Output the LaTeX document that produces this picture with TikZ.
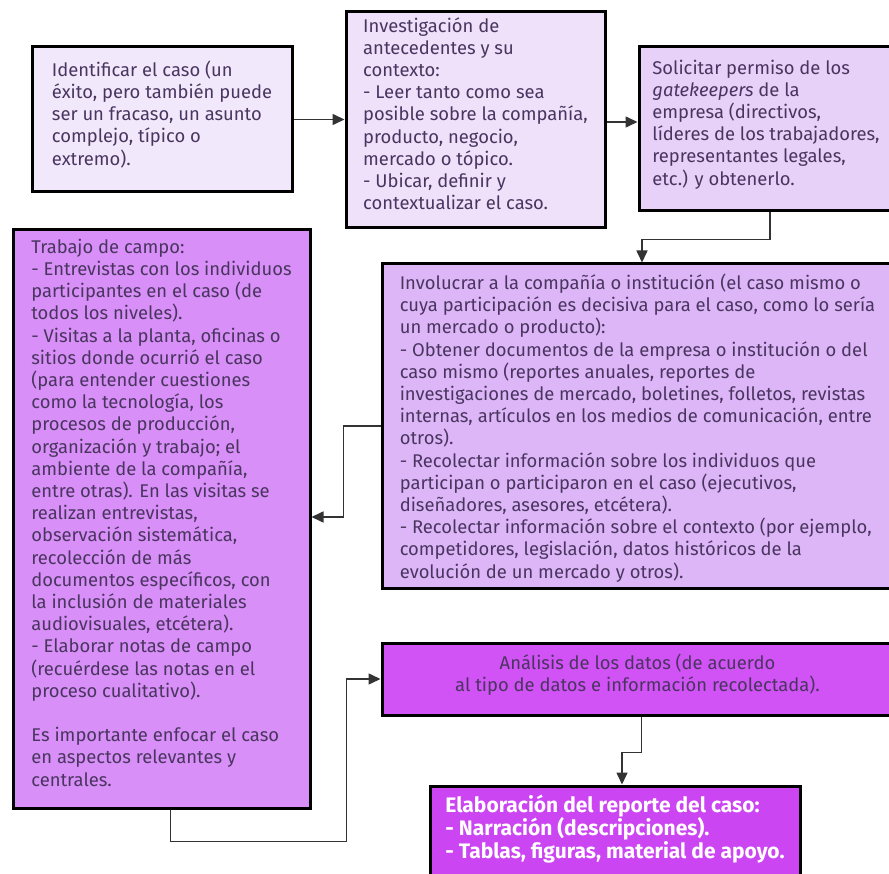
\documentclass[tikz,border=0pt]{standalone}
\usepackage{fontspec}
\setmainfont{Fira Sans}
\usetikzlibrary{shapes,arrows,arrows.meta}
\definecolor{txtgray}{HTML}{4A3560}
\definecolor{fillA}{HTML}{F1E9FB}
\definecolor{fillB}{HTML}{EEE1F9}
\definecolor{fillC}{HTML}{E8D1F8}
\definecolor{fillD}{HTML}{DDB6F7}
\definecolor{fillE}{HTML}{D88FF7}
\definecolor{fillF}{HTML}{D152F5}
\definecolor{fillG}{HTML}{CC45F3}
\tikzstyle{block} = [rectangle, draw, line width=3pt, text=txtgray, align=left, inner sep=0pt, text depth=13pt, font=\fontsize{18.4}{22.2}\selectfont]
\tikzstyle{line} = [draw, line width=1.6pt, draw=black!80, -{Triangle[length=12pt,width=11pt]}]

\begin{document}
\begin{tikzpicture}[x=1pt, y=-1pt]
    \useasboundingbox (0,0) rectangle (889,874);
    % Place nodes
    \node [block, fill=fillA, minimum width=260, minimum height=145] (identificar) at (162,119.5)
        {Identificar el caso (un\\éxito, pero también puede\\ser un fracaso, un asunto\\complejo, típico o\\extremo).};
    \node [block, fill=fillB, minimum width=259, minimum height=216] (antecedentes) at (475.5,120)
        {Investigación de\\antecedentes y su\\contexto:\\- Leer tanto como sea\\posible sobre la compañía,\\producto, negocio,\\mercado o tópico.\\- Ubicar, definir y\\contextualizar el caso.};
    \node [block, fill=fillC, minimum width=254, minimum height=164] (permiso) at (766,129)
        {Solicitar permiso de los\\\textit{gatekeepers} de la\\empresa (directivos,\\líderes de los trabajadores,\\representantes legales,\\etc.) y obtenerlo.};
    \node [block, fill=fillD, minimum width=511, minimum height=324, text depth=0pt] (involucrar) at (637.5,426)
        {Involucrar a la compañía o institución (el caso mismo o\\cuya participación es decisiva para el caso, como lo sería\\un mercado o producto):\\- Obtener documentos de la empresa o institución o del\\caso mismo (reportes anuales, reportes de\\investigaciones de mercado, boletines, folletos, revistas\\internas, artículos en los medios de comunicación, entre\\otros).\\- Recolectar información sobre los individuos que\\participan o participaron en el caso (ejecutivos,\\diseñadores, asesores, etcétera).\\- Recolectar información sobre el contexto (por ejemplo,\\competidores, legislación, datos históricos de la\\evolución de un mercado y otros).};
    \node [block, fill=fillE, minimum width=297, minimum height=578] (campo) at (161.5,519)
        {Trabajo de campo:\\- Entrevistas con los individuos\\participantes en el caso (de\\todos los niveles).\\- Visitas a la planta, oficinas o\\sitios donde ocurrió el caso\\(para entender cuestiones\\como la tecnología, los\\procesos de producción,\\organización y trabajo; el\\ambiente de la compañía,\\entre otras). En las visitas se\\realizan entrevistas,\\observación sistemática,\\recolección de más\\documentos específicos, con\\la inclusión de materiales\\audiovisuales, etcétera).\\- Elaborar notas de campo\\(recuérdese las notas en el\\proceso cualitativo).\\[22.2pt]Es importante enfocar el caso\\en aspectos relevantes y\\centrales.};
    \node [block, fill=fillF, minimum width=511, minimum height=72, align=center] (analisis) at (637.5,679)
        {Análisis de los datos (de acuerdo\\al tipo de datos e información recolectada).};
    \node [block, fill=fillG, minimum width=370, minimum height=94, text=white, font=\fontsize{21}{21.5}\selectfont\bfseries] (reporte) at (615,833)
        {Elaboración del reporte del caso:\\- Narración (descripciones).\\- Tablas, figuras, material de apoyo.};
    % Draw edges
    \path [line] (identificar.east) -- (identificar.east -| antecedentes.west);
    \path [line] ([yshift=-2]antecedentes.east) -- ([yshift=-2]antecedentes.east -| permiso.west);
    \path [line] ([xshift=4]permiso.south) -- ++(0,27) -| ([xshift=4.5]involucrar.north);
    \path [line] (involucrar.west) -- ++(-37,0) |- ([yshift=2]campo.east);
    \path [line] ([xshift=9]campo.south) -- ++(0,32) -- ++(176,0) |- (analisis.west);
    \path [line] ([xshift=4]analisis.south) -- ++(0,36) -| ([xshift=7]reporte.north);
\end{tikzpicture}
\end{document}
